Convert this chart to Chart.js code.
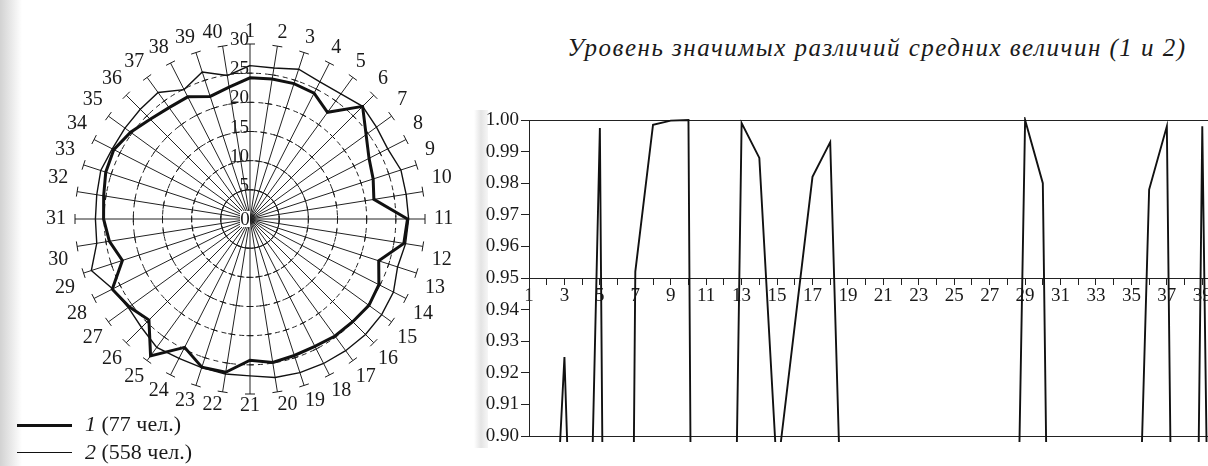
<!DOCTYPE html>
<html><head><meta charset="utf-8">
<script src="https://cdn.jsdelivr.net/npm/chart.js@4"></script>
<style>
html,body{margin:0;padding:0;background:#fff;width:1208px;height:466px;overflow:hidden;position:relative;font-family:"Liberation Serif",serif;color:#1a1a1a}
#shade{position:absolute;left:0;top:0;width:22px;height:466px;background:linear-gradient(to right,#d2d2d2,#ffffff)}
#shade2{position:absolute;left:474px;top:110px;width:14px;height:338px;background:linear-gradient(to right,#ffffff,#e4e4e4,#f6f6f6)}
#radarBox{position:absolute;left:46px;top:15px;width:408px;height:408px}
#lineBox{position:absolute;left:470px;top:100px;width:760px;height:350px}
#title{position:absolute;left:527px;top:34px;width:700px;text-align:center;font-style:italic;font-size:25px;letter-spacing:1.5px;white-space:nowrap}
.legLine{position:absolute;left:17px;width:55px;background:#111}
.legText{position:absolute;left:85px;font-size:22px;white-space:nowrap}
</style></head>
<body>
<div id="shade"></div>
<div id="shade2"></div>
<div id="radarBox"><canvas id="radar"></canvas></div>
<div id="lineBox"><canvas id="line"></canvas></div>
<div id="title">Уровень значимых различий средних величин (1 и 2)</div>
<div class="legLine" style="top:424px;height:3px"></div>
<div class="legText" style="top:411px"><i>1</i> (77 чел.)</div>
<div class="legLine" style="top:452px;height:1.4px"></div>
<div class="legText" style="top:439px"><i>2</i> (558 чел.)</div>
<script>
// ---- radar data ----
const radarLabels = ['1','2','3','4','5','6','7','8','9','10','11','12','13','14','15','16','17','18','19','20',
  '21','22','23','24','25','26','27','28','29','30','31','32','33','34','35','36','37','38','39','40'];
const group1 = [24.2,24.3,24.4,24.2,22.6,27.3,24.6,22.9,22.2,21.5,27.0,26.7,23.2,24.8,25.2,24.9,24.8,24.5,24.6,24.9,
  24.2,26.6,26.7,24.7,29.0,24.5,25.6,26.5,23.0,24.4,25.1,25.4,26.0,26.2,25.3,24.2,23.6,23.5,22.1,22.9];
const group2 = [26.3,26.2,27.0,26.4,26.5,27.3,26.8,26.5,27.2,27.1,27.2,27.0,26.6,27.6,27.9,28.0,27.9,27.8,27.7,27.5,
  26.9,26.9,26.8,26.8,27.2,26.3,25.8,26.4,28.6,26.6,26.5,26.6,26.9,26.5,26.5,26.6,26.8,24.9,26.5,24.9];
const radarTicks = [5,10,15,20,25,30];

// ---- significance line data ----
const xLabels = ['1','2','3','4','5','6','7','8','9','10','11','12','13','14','15','16','17','18','19','20',
  '21','22','23','24','25','26','27','28','29','30','31','32','33','34','35','36','37','38','39','40'];
const significance = [0.70,0.815,0.925,0.75,0.9975,0.28,0.952,0.9985,0.9998,1.000,0.10,0.62,0.999,0.988,0.888,0.935,0.982,0.993,0.80,0.55,
  0.40,0.60,0.50,0.35,0.45,0.60,0.50,0.68,1.000,0.980,0.54,0.40,0.30,0.50,0.78,0.978,0.998,0.50,0.998,0.58];
const yTicks = [0.90,0.91,0.92,0.93,0.94,0.95,0.96,0.97,0.98,0.99,1.00];

const INK = '#1a1a1a';
const serif = 'Liberation Serif';

const radarDecor = {
  id: 'radarDecor',
  afterDatasetsDraw(chart) {
    const s = chart.scales.r, ctx = chart.ctx;
    ctx.save();
    ctx.strokeStyle = INK; ctx.lineWidth = 1;
    for (let i = 0; i < radarLabels.length; i++) {
      const a = s.getIndexAngle(i) - Math.PI / 2;
      const px = -Math.sin(a), py = Math.cos(a);
      radarTicks.forEach(v => {
        const p = s.getPointPositionForValue(i, v);
        const h = v === 30 ? 5 : 3.5;
        ctx.beginPath();
        ctx.moveTo(p.x - px * h, p.y - py * h);
        ctx.lineTo(p.x + px * h, p.y + py * h);
        ctx.stroke();
      });
    }
    ctx.font = '19px "' + serif + '"';
    ctx.fillStyle = INK; ctx.textAlign = 'right'; ctx.textBaseline = 'alphabetic';
    radarTicks.forEach(v => {
      const p = s.getPointPositionForValue(0, v);
      ctx.fillText(String(v), p.x - 1, p.y + 1);
    });
    ctx.fillStyle = '#fff';
    ctx.fillRect(s.xCenter - 10, s.yCenter - 8, 10, 16);
    ctx.fillStyle = INK; ctx.textAlign = 'center'; ctx.textBaseline = 'middle';
    ctx.fillText('0', s.xCenter - 5, s.yCenter + 1);
    ctx.restore();
  }
};

new Chart(document.getElementById('radar'), {
  type: 'radar',
  data: {
    labels: radarLabels,
    datasets: [
      { label: '1 (77 чел.)', data: group1, borderColor: '#111', borderWidth: 3, pointRadius: 0, fill: false },
      { label: '2 (558 чел.)', data: group2, borderColor: '#111', borderWidth: 1.4, pointRadius: 0, fill: false }
    ]
  },
  options: {
    responsive: true, maintainAspectRatio: false, animation: false,
    layout: { padding: 0 },
    plugins: { legend: { display: false }, tooltip: { enabled: false } },
    elements: { line: { tension: 0 } },
    scales: {
      r: {
        min: 0, max: 30,
        ticks: { stepSize: 5, display: false },
        grid: { circular: true, color: c => (c.tick && c.tick.value >= 30) ? 'rgba(0,0,0,0)' : '#222', lineWidth: 1 },
        border: { dash: [5, 4] },
        angleLines: { display: true, color: '#222', lineWidth: 1 },
        pointLabels: {
          font: { family: serif, size: 20 }, color: INK,
          padding: c => Math.round(9 * Math.abs(Math.sin(c.index * 2 * Math.PI / radarLabels.length)))
        }
      }
    }
  },
  plugins: [radarDecor]
});

new Chart(document.getElementById('line'), {
  type: 'line',
  data: {
    labels: xLabels,
    datasets: [{ data: significance, borderColor: '#111', borderWidth: 1.9, pointRadius: 0, tension: 0, fill: false,
      clip: { left: 0, top: 3, right: 0, bottom: 6 } }]
  },
  options: {
    responsive: true, maintainAspectRatio: false, animation: false,
    layout: { padding: { left: 0, top: 20, right: 10, bottom: 14 } },
    plugins: { legend: { display: false }, tooltip: { enabled: false } },
    scales: {
      x: {
        type: 'category',
        position: { y: 0.95 },
        offset: false,
        grid: { drawOnChartArea: false, drawTicks: true, tickLength: 6, color: '#222' },
        border: { display: true, color: '#222', width: 1 },
        ticks: { autoSkip: false, maxRotation: 0, padding: 1, color: INK, font: { family: serif, size: 19 },
          callback: (v, i) => (i % 2 === 0 ? xLabels[i] : '') }
      },
      y: {
        min: 0.90, max: 1.00,
        afterBuildTicks: s => { s.ticks = yTicks.map(v => ({ value: v })); },
        afterFit: s => { s.width = 59; },
        grid: {
          color: c => (c.tick && (Math.abs(c.tick.value - 0.9) < 1e-6 || Math.abs(c.tick.value - 1) < 1e-6)) ? '#222' : 'rgba(0,0,0,0)',
          tickColor: '#222', tickLength: 8, drawOnChartArea: true
        },
        border: { display: true, color: '#222', width: 1 },
        ticks: { padding: 2, color: INK, font: { family: serif, size: 19 }, callback: v => Number(v).toFixed(2) }
      }
    }
  }
});
</script>
</body></html>
